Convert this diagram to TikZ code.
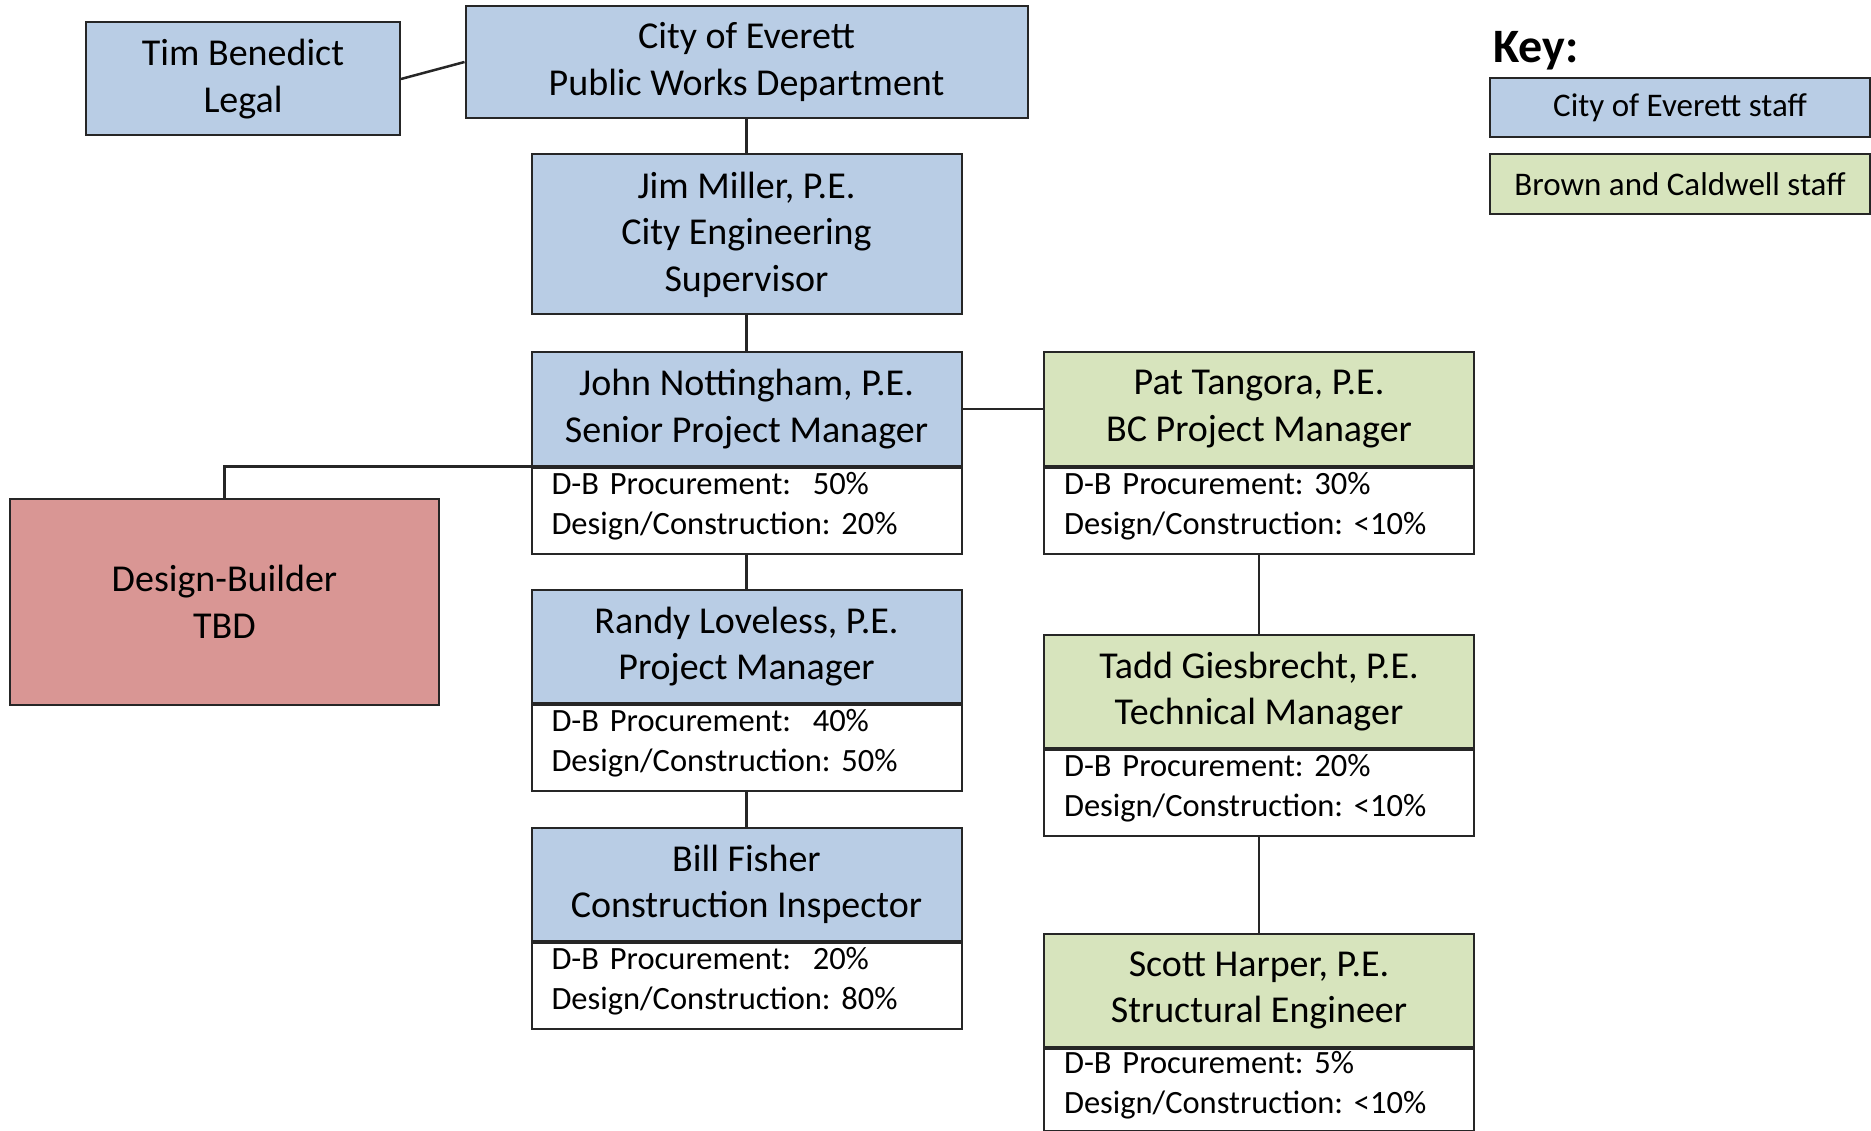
\documentclass[tikz,border=0pt]{standalone}
\usepackage{fontspec}
\setmainfont{Carlito}
\definecolor{cityblue}{HTML}{B9CDE5}
\definecolor{bcgreen}{HTML}{D7E4BD}
\definecolor{dbred}{HTML}{D99694}
\definecolor{edge}{HTML}{262626}
\frenchspacing
% extra room under the percentage lines, so they sit a little high in their box
\newcommand\infogap{\endgraf\vspace*{9pt}}
\begin{document}
\begin{tikzpicture}[x=1pt,y=-1pt,
  box/.style={draw=edge, line width=2pt, rectangle, inner sep=0pt, align=center,
    font=\fontsize{38}{46.5}\selectfont},
  city/.style={box, fill=cityblue},
  bc/.style={box, fill=bcgreen},
  hdr/.style={minimum width=430pt, minimum height=113pt},
  info/.style={draw=edge, line width=2pt, rectangle, fill=white, inner sep=0pt,
    minimum width=430pt, minimum height=86pt, text width=390pt, align=left,
    execute at end node=\infogap,
    anchor=north, font=\fontsize{32.5}{40}\selectfont},
  link/.style={draw=edge, line width=2.5pt}]
\useasboundingbox (0,0) rectangle (1871,1131);

% top of the organisation
\node[city, minimum width=314pt, minimum height=113pt] (tim) at (243,79) {Tim Benedict\\Legal};
\node[city, minimum width=562pt, minimum height=112pt] (pwd) at (746.5,62) {City of Everett\\Public Works Department};
\node[city, minimum width=430pt, minimum height=160pt] (jim) at (746.5,234.5) {Jim Miller, P.E.\\City Engineering\\Supervisor};

% city staff column
\node[city, hdr] (john) at (746.5,409) {John Nottingham, P.E.\\Senior Project Manager};
\node[info] (johnd) at (john.south) {D-B Procurement:\ \ 50\%\\Design/Construction: 20\%};
\node[city, hdr] (randy) at (746.5,646.5) {Randy Loveless, P.E.\\Project Manager};
\node[info] (randyd) at (randy.south) {D-B Procurement:\ \ 40\%\\Design/Construction: 50\%};
\node[city, hdr] (bill) at (746.5,884.5) {Bill Fisher\\Construction Inspector};
\node[info] (billd) at (bill.south) {D-B Procurement:\ \ 20\%\\Design/Construction: 80\%};

% Brown and Caldwell column
\node[bc, hdr] (pat) at (1259,409) {Pat Tangora, P.E.\\BC Project Manager};
\node[info] (patd) at (pat.south) {D-B Procurement: 30\%\\Design/Construction: <10\%};
\node[bc, hdr] (tadd) at (1259,691.5) {Tadd Giesbrecht, P.E.\\Technical Manager};
\node[info] (taddd) at (tadd.south) {D-B Procurement: 20\%\\Design/Construction: <10\%};
\node[bc, hdr] (scott) at (1259,990.5) {Scott Harper, P.E.\\Structural Engineer};
\node[info, minimum height=82pt] (scottd) at (scott.south) {D-B Procurement: 5\%\\Design/Construction: <10\%};

% design-builder
\node[box, fill=dbred, minimum width=429pt, minimum height=206pt] (db) at (224.5,602) {Design-Builder\\TBD};

% key
\node[anchor=west, inner sep=0pt, font=\bfseries\fontsize{48}{52}\selectfont] (key) at (1493,51) {Key:};
\node[city, minimum width=380pt, minimum height=59pt, font=\fontsize{33}{38}\selectfont] (keycity) at (1680,107.5) {City of Everett staff};
\node[bc, minimum width=380pt, minimum height=60pt, font=\fontsize{33}{38}\selectfont] (keybc) at (1680,184) {Brown and Caldwell staff};

% reporting lines
\draw[link] (tim.east) -- (pwd.west);
\draw[link] (pwd.south) -- (jim.north);
\draw[link] (jim.south) -- (john.north);
\draw[link] (john.east) -- (pat.west);
\draw[link] (john.south west) -| (db.north);
\draw[link] (johnd.south) -- (randy.north);
\draw[link] (randyd.south) -- (bill.north);
\draw[link] (patd.south) -- (tadd.north);
\draw[link] (taddd.south) -- (scott.north);
\end{tikzpicture}
\end{document}
